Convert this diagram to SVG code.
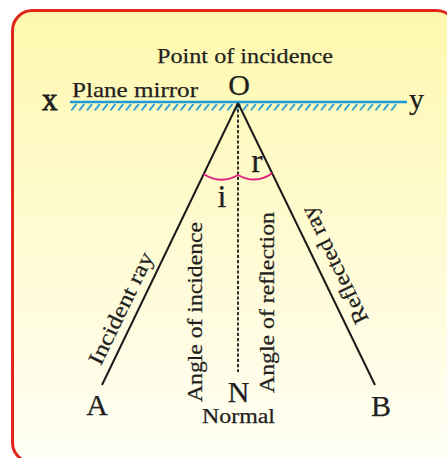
<svg xmlns="http://www.w3.org/2000/svg" width="447" height="458" viewBox="0 0 447 458">
<defs>
<linearGradient id="bg" x1="0" y1="0" x2="0" y2="1">
<stop offset="0" stop-color="#FEF8AE"/>
<stop offset="0.55" stop-color="#FFFBD6"/>
<stop offset="1" stop-color="#FFFFF6"/>
</linearGradient>
<pattern id="hatch" x="71" y="103" width="7.8" height="8" patternUnits="userSpaceOnUse">
<line x1="0.9" y1="6.8" x2="5" y2="1.6" stroke="#1E9AD8" stroke-width="1.8" stroke-linecap="round"/>
</pattern>
</defs>
<style>
text{font-family:"Liberation Serif","Times New Roman",serif;fill:#231F20;stroke:#231F20;stroke-width:0.25}
.big{font-size:30px}
.lbl{font-size:22px}
.ray{stroke:#1a1a1a;stroke-width:2;fill:none}
</style>
<rect x="12.5" y="10.5" width="444" height="452" rx="20" fill="url(#bg)" stroke="#E0261B" stroke-width="3"/>
<g id="mirror">
<rect x="71" y="103" width="326" height="8" fill="url(#hatch)"/>
<line x1="70" y1="102" x2="407" y2="102" stroke="#1E9AD8" stroke-width="2.4"/>
<text x="42" y="110" style="font-size:31px;stroke-width:0.8">x</text>
<text x="409" y="109" style="font-size:30px">y</text>
<text x="72" y="97" class="lbl" textLength="126" lengthAdjust="spacingAndGlyphs">Plane mirror</text>
</g>
<g id="point-O">
<text x="245" y="63" class="lbl" text-anchor="middle" textLength="176" lengthAdjust="spacingAndGlyphs">Point of incidence</text>
<text x="239" y="95" class="big" text-anchor="middle">O</text>
</g>
<g id="connectors">
<line class="ray" x1="238" y1="103" x2="102" y2="385"/>
<line class="ray" x1="238" y1="103" x2="375" y2="385"/>
<line x1="238" y1="104" x2="238" y2="372" stroke="#1a1a1a" stroke-width="1.8" stroke-dasharray="3.2,2"/>
<path d="M203.5,174 Q221,185 238,175 Q256,185 272.5,173" fill="none" stroke="#E0207F" stroke-width="2"/>
</g>
<g id="angles">
<text x="222" y="207" text-anchor="middle" style="font-size:32px">i</text>
<text x="257" y="172" text-anchor="middle" style="font-size:34px">r</text>
</g>
<g id="incident-ray">
<text transform="translate(135.5,315.5) rotate(-64.2)" x="0" y="-9" class="lbl" text-anchor="middle" textLength="122" lengthAdjust="spacingAndGlyphs">Incident ray</text>
<text x="97" y="415" class="big" text-anchor="middle">A</text>
</g>
<g id="reflected-ray">
<text transform="translate(320.3,272) rotate(-116)" x="0" y="23" class="lbl" text-anchor="middle" textLength="128" lengthAdjust="spacingAndGlyphs">Reflected ray</text>
<text x="381" y="416" class="big" text-anchor="middle">B</text>
</g>
<g id="normal">
<text transform="translate(202,312) rotate(-90)" x="0" y="0" class="lbl" text-anchor="middle" textLength="180" lengthAdjust="spacingAndGlyphs">Angle of incidence</text>
<text transform="translate(274,302.5) rotate(-90)" x="0" y="0" class="lbl" text-anchor="middle" textLength="181" lengthAdjust="spacingAndGlyphs">Angle of reflection</text>
<text x="238.5" y="402" class="big" text-anchor="middle">N</text>
<text x="238.5" y="423" text-anchor="middle" style="font-size:20px" textLength="73" lengthAdjust="spacingAndGlyphs">Normal</text>
</g>
</svg>
